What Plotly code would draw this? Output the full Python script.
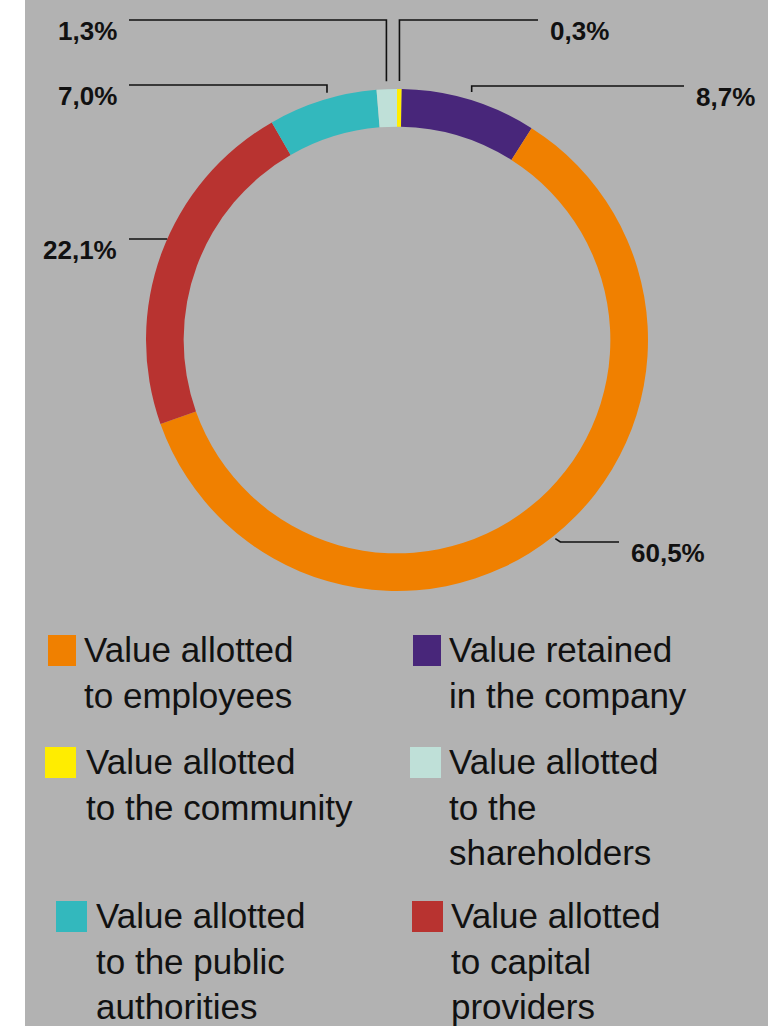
import math
import plotly.graph_objects as go

# ---------------- data ----------------
categories = [
    "Value allotted to the community",
    "Value retained in the company",
    "Value allotted to employees",
    "Value allotted to capital providers",
    "Value allotted to the public authorities",
    "Value allotted to the shareholders",
]
values = [0.3, 8.7, 60.5, 22.1, 7.0, 1.3]
value_labels = ["0,3%", "8,7%", "60,5%", "22,1%", "7,0%", "1,3%"]
colors = ["#ffed00", "#48267a", "#f08000", "#b83330", "#33b8bd", "#bfe0d8"]
legend_texts = [
    "Value allotted<br>to the community",
    "Value retained<br>in the company",
    "Value allotted<br>to employees",
    "Value allotted<br>to capital<br>providers",
    "Value allotted<br>to the public<br>authorities",
    "Value allotted<br>to the<br>shareholders",
]

# ---------------- layout constants (pixels) ----------------
W, H = 768, 1026
CX, CY, R = 397, 340, 251
HOLE = 0.85
BG = "#b2b2b2"
INK = "#111111"
FONT = "Liberation Sans"

# label placement: (side, text edge x, leader line y, kind, anchor shift px)
label_layout = [
    ("right", 549, 20, "elbow", 0),
    ("right", 695, 86, "elbow", 0),
    ("right", 630, 542, "slant", 0),
    ("left", 118, 239, "flat", 0),
    ("left", 118, 85, "elbow", 7),
    ("left", 118, 20, "elbow", 0),
]
# legend placement: (square left, square top, square width, text left)
legend_layout = [
    (45, 747, 31, 85),
    (413, 635, 28, 448),
    (48, 635, 28, 83),
    (412, 901, 31, 450),
    (56, 901, 31, 95),
    (410, 747, 31, 448),
]


def px(x):
    return x / W


def py(y):
    return 1 - y / H


fig = go.Figure()
fig.add_trace(go.Pie(
    labels=categories,
    values=values,
    marker=dict(colors=colors, line=dict(width=0)),
    hole=HOLE,
    sort=False,
    direction="clockwise",
    rotation=0,
    textinfo="none",
    hoverinfo="none",
    showlegend=False,
    domain=dict(x=[px(CX - R), px(CX + R)], y=[py(CY + R), py(CY - R)]),
))

shapes = [dict(type="rect", xref="paper", yref="paper", x0=px(25), x1=1, y0=0, y1=1,
               fillcolor=BG, line=dict(width=0), layer="below")]
annotations = []

total = sum(values)
cum = 0.0
for val, txt, (side, tx, ly, kind, shift) in zip(values, value_labels, label_layout):
    mid = (cum + val / 2) / total * 2 * math.pi
    cum += val
    sgn = 1 if side == "right" else -1
    end_x = tx - sgn * 11
    if kind == "elbow":
        r = R + 8
        ax, ay = CX + r * math.sin(mid) + shift, CY - r * math.cos(mid)
        pts = [(ax, ay), (ax, ly), (end_x, ly)]
    elif kind == "slant":
        r = R + 3
        ax, ay = CX + r * math.sin(mid), CY - r * math.cos(mid)
        pts = [(ax, ay), (ax + 5, ly), (end_x, ly)]
    else:
        dx = math.sqrt(max(R * R - (ly - CY) ** 2, 0))
        ax = CX + sgn * dx
        pts = [(ax, ly), (end_x, ly)]
    path = "M " + " L ".join(f"{px(x):.5f},{py(y):.5f}" for x, y in pts)
    shapes.append(dict(type="path", xref="paper", yref="paper", path=path,
                       line=dict(color=INK, width=1.6)))
    annotations.append(dict(
        xref="paper", yref="paper", x=px(tx), y=py(ly + 11),
        xanchor="left" if side == "right" else "right", yanchor="middle",
        text=f"<b>{txt}</b>", showarrow=False, borderpad=0,
        font=dict(family=FONT, size=26, color=INK),
    ))

for col, txt, (sx, sy, sw, tx) in zip(colors, legend_texts, legend_layout):
    shapes.append(dict(type="rect", xref="paper", yref="paper",
                       x0=px(sx), x1=px(sx + sw), y0=py(sy + 31), y1=py(sy),
                       fillcolor=col, line=dict(width=0)))
    annotations.append(dict(
        xref="paper", yref="paper", x=px(tx), y=py(sy - 6),
        xanchor="left", yanchor="top", align="left",
        text=txt, showarrow=False, borderpad=0,
        font=dict(family=FONT, size=35, color=INK),
    ))

fig.update_layout(
    width=W, height=H,
    margin=dict(l=0, r=0, t=0, b=0),
    paper_bgcolor="white",
    plot_bgcolor=BG,
    shapes=shapes,
    annotations=annotations,
    showlegend=False,
)

fig.write_html(
    "out.html",
    config={"displayModeBar": False},
    post_script="document.body.style.margin='0';document.body.style.overflow='hidden';",
)
